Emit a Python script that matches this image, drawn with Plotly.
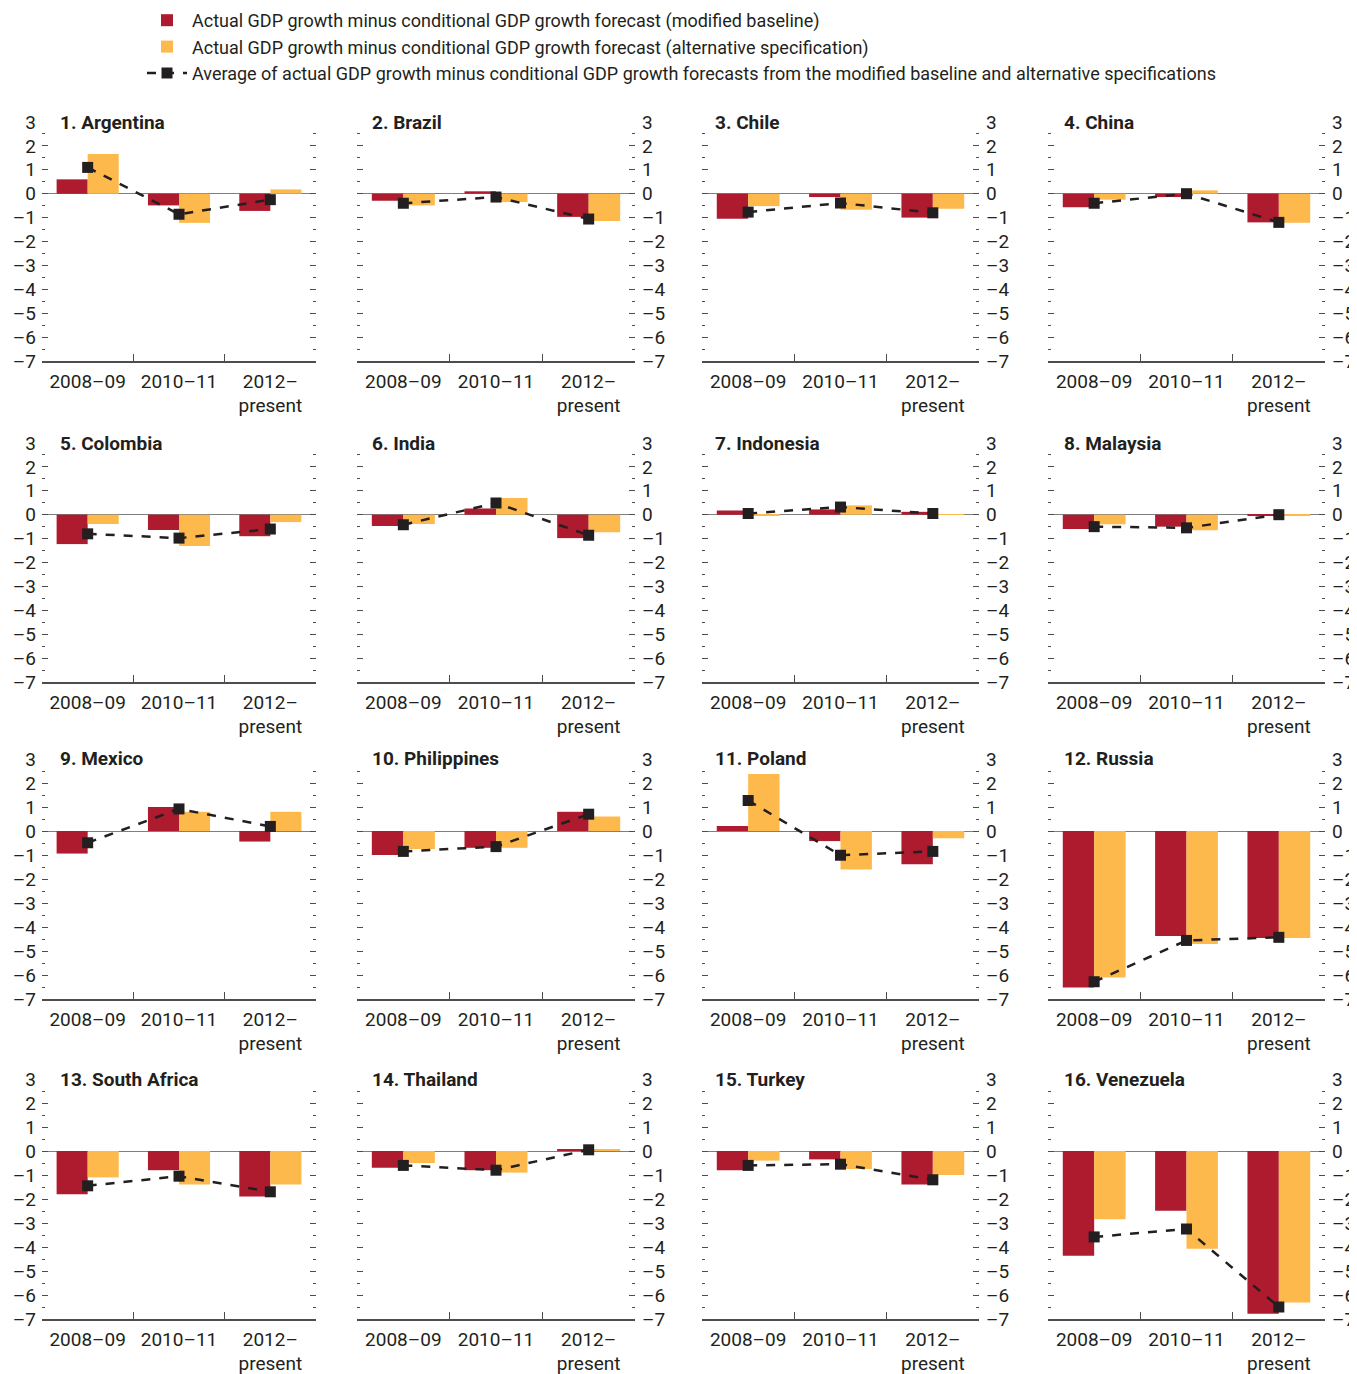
import plotly.graph_objects as go

# ---------------- data ----------------
periods = ["2008–09", "2010–11", "2012–<br>present"]
countries = ["1. Argentina", "2. Brazil", "3. Chile", "4. China",
             "5. Colombia", "6. India", "7. Indonesia", "8. Malaysia",
             "9. Mexico", "10. Philippines", "11. Poland", "12. Russia",
             "13. South Africa", "14. Thailand", "15. Turkey", "16. Venezuela"]

modified_baseline = [
    [0.60, -0.49, -0.72],   # Argentina
    [-0.30, 0.10, -0.97],   # Brazil
    [-1.05, -0.14, -1.00],  # Chile
    [-0.57, -0.14, -1.20],  # China
    [-1.23, -0.64, -0.90],  # Colombia
    [-0.47, 0.26, -0.98],   # India
    [0.18, 0.22, 0.12],     # Indonesia
    [-0.60, -0.50, -0.02],  # Malaysia
    [-0.94, 1.00, -0.44],   # Mexico
    [-1.00, -0.70, 0.80],   # Philippines
    [0.21, -0.42, -1.39],   # Poland
    [-6.52, -4.38, -4.46],  # Russia
    [-1.80, -0.80, -1.90],  # South Africa
    [-0.70, -0.80, 0.05],   # Thailand
    [-0.80, -0.35, -1.40],  # Turkey
    [-4.36, -2.49, -6.78],  # Venezuela
]
alternative_spec = [
    [1.66, -1.22, 0.18],
    [-0.49, -0.35, -1.14],
    [-0.52, -0.67, -0.63],
    [-0.25, 0.14, -1.22],
    [-0.39, -1.31, -0.31],
    [-0.39, 0.70, -0.73],
    [-0.03, 0.39, -0.01],
    [-0.40, -0.65, -0.02],
    [0.00, 0.80, 0.80],
    [-0.75, -0.70, 0.60],
    [2.37, -1.60, -0.30],
    [-6.10, -4.71, -4.46],
    [-1.10, -1.40, -1.40],
    [-0.50, -0.90, 0.05],
    [-0.40, -0.75, -1.00],
    [-2.84, -4.07, -6.31],
]
average = [
    [1.10, -0.86, -0.25],
    [-0.40, -0.14, -1.06],
    [-0.77, -0.39, -0.80],
    [-0.40, 0.00, -1.20],
    [-0.80, -0.98, -0.60],
    [-0.42, 0.49, -0.86],
    [0.05, 0.32, 0.05],
    [-0.50, -0.55, 0.00],
    [-0.49, 0.92, 0.19],
    [-0.85, -0.65, 0.70],
    [1.27, -1.01, -0.85],
    [-6.28, -4.56, -4.43],
    [-1.45, -1.05, -1.70],
    [-0.60, -0.80, 0.05],
    [-0.60, -0.55, -1.20],
    [-3.58, -3.25, -6.50],
]
y_ticks = [-7, -6, -5, -4, -3, -2, -1, 0, 1, 2, 3]
y_ticktext = ["–7", "–6", "–5", "–4", "–3", "–2", "–1", "0", "1", "2", "3"]
y_minor = [-6.5, -5.5, -4.5, -3.5, -2.5, -1.5, -0.5, 0.5, 1.5, 2.5]

legend_names = [
    "Actual GDP growth minus conditional GDP growth forecast (modified baseline)",
    "Actual GDP growth minus conditional GDP growth forecast (alternative specification)",
    "Average of actual GDP growth minus conditional GDP growth forecasts from the modified baseline and alternative specifications",
]

# ---------------- style / layout ----------------
OFF = 8  # page body margin
W, H = 1357 - OFF, 1374 - OFF
RED = "#AE1A2E"
YEL = "#FDB94B"
BLK = "#231F20"
FONT = "Roboto, Liberation Sans, sans-serif"

col_px = [(42, 316), (357, 635), (702, 979), (1048, 1325)]
row_px = [(122, 361), (443, 682), (759, 999), (1079, 1319)]
title_shift = [16, 13, 11, 14]

fig = go.Figure()
layout = dict()
annotations = []

for i, name in enumerate(countries):
    r, c = divmod(i, 4)
    n = i + 1
    xa = "x" if n == 1 else f"x{n}"
    ya = "y" if n == 1 else f"y{n}"
    show = (i == 0)
    fig.add_trace(go.Bar(x=periods, y=modified_baseline[i], name=legend_names[0],
                         marker=dict(color=RED, line=dict(width=0)),
                         xaxis=xa, yaxis=ya, showlegend=show, legendgroup="a"))
    fig.add_trace(go.Bar(x=periods, y=alternative_spec[i], name=legend_names[1],
                         marker=dict(color=YEL, line=dict(width=0)),
                         xaxis=xa, yaxis=ya, showlegend=show, legendgroup="b"))
    fig.add_trace(go.Scatter(x=periods, y=average[i], name=legend_names[2],
                             mode="lines+markers",
                             line=dict(color=BLK, width=2.5, dash="dash"),
                             marker=dict(symbol="square", size=11, color=BLK),
                             xaxis=xa, yaxis=ya, showlegend=show, legendgroup="c"))

    x0, x1 = col_px[c][0] - OFF, col_px[c][1] - OFF
    y0, y1 = row_px[r][0] - OFF, row_px[r][1] - OFF
    xkey = "xaxis" if n == 1 else f"xaxis{n}"
    ykey = "yaxis" if n == 1 else f"yaxis{n}"
    layout[xkey] = dict(
        domain=[x0 / W, x1 / W], anchor=ya, type="category",
        categoryorder="array", categoryarray=periods,
        showline=True, linecolor="#4d4d4d", linewidth=1.5,
        ticks="inside", tickson="boundaries", ticklen=7, tickwidth=1.3,
        tickcolor="#4d4d4d", showgrid=False, zeroline=False,
        tickfont=dict(family=FONT, size=19, color=BLK),
        ticklabelstandoff=2, fixedrange=True, automargin=False,
    )
    layout[ykey] = dict(
        domain=[1 - y1 / H, 1 - y0 / H], anchor=xa,
        range=[-7, 3], side="left" if c == 0 else "right",
        tickmode="array", tickvals=y_ticks, ticktext=y_ticktext,
        ticks="inside", ticklen=6, tickwidth=1.3, tickcolor="#4d4d4d",
        mirror="ticks", showline=False, showgrid=False,
        minor=dict(tickmode="array", tickvals=y_minor, ticks="inside",
                   ticklen=3, tickwidth=1.3, tickcolor="#4d4d4d", showgrid=False),
        zeroline=True, zerolinecolor="#7f7f7f", zerolinewidth=1.3,
        tickfont=dict(family=FONT, size=19, color=BLK),
        ticklabelstandoff=5 if c == 0 else 6, fixedrange=True, automargin=False,
    )
    annotations.append(dict(
        text=f"<b>{name}</b>", xref=f"{xa} domain", yref=f"{ya} domain",
        x=0, y=1, xanchor="left", yanchor="middle", xshift=title_shift[c],
        showarrow=False, font=dict(family=FONT, size=19, color=BLK),
    ))

fig.update_layout(
    **layout,
    annotations=annotations,
    width=W, height=H,
    margin=dict(l=0, r=0, t=0, b=0, autoexpand=False),
    paper_bgcolor="white", plot_bgcolor="white",
    barmode="group", bargap=0.32, bargroupgap=0,
    font=dict(family=FONT, size=18, color=BLK),
    legend=dict(x=134 / W, y=1 + 6 / H, xanchor="left", yanchor="top",
                orientation="v", font=dict(family=FONT, size=18, color=BLK),
                bgcolor="rgba(0,0,0,0)", itemwidth=40, tracegroupgap=0,
                traceorder="normal"),
)

fig.write_html("out.html")
